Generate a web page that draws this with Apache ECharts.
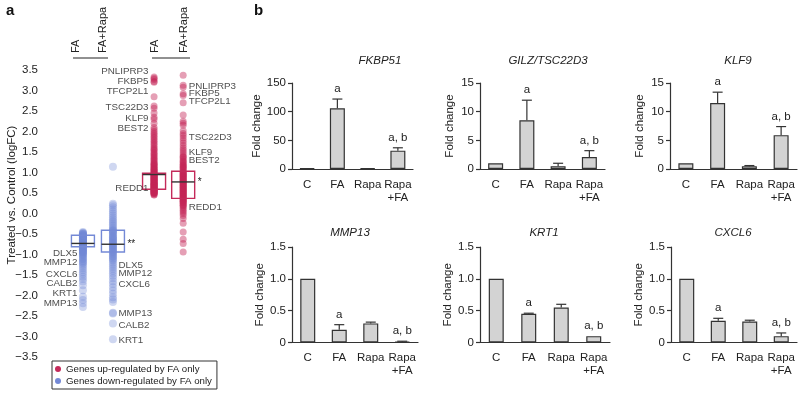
<!DOCTYPE html>
<html>
<head>
<meta charset="utf-8">
<script src="https://cdn.jsdelivr.net/npm/echarts@6/dist/echarts.min.js"></script>
<style>
  html, body { margin: 0; padding: 0; background: #fff; }
  #main { width: 800px; height: 398px; }
</style>
</head>
<body>
<div id="main"></div>
<script>
const FONT = 'Liberation Sans, Arial, Helvetica, sans-serif'

// ---- panel a: logFC per gene, four columns ----
const upName = 'Genes up-regulated by FA only'
const downName = 'Genes down-regulated by FA only'
const colX = [1.23, 2.23, 3.6, 4.57]   // blue FA, blue FA+Rapa, red FA, red FA+Rapa

const blueFA = [-0.45, -0.47, -0.49, -0.51, -0.53, -0.55, -0.57, -0.59, -0.61, -0.63, -0.65, -0.67, -0.69, -0.71, -0.73, -0.75,
  -0.77, -0.79, -0.81, -0.84, -0.87, -0.9, -0.93, -0.96, -0.99, -1.02, -1.05, -1.08, -1.12, -1.16, -1.2, -1.24, -1.28, -1.33,
  -1.38, -1.43, -1.48, -1.54, -1.6, -1.66, -1.75, -1.87, -2.03, -2.11, -2.19, -2.28, -0.48, -0.52, -0.56, -0.6, -0.64, -0.68,
  -0.72, -0.76, -0.8, -0.85, -0.9, -0.95, -1.0, -0.5, -0.54, -0.58, -0.62, -0.66, -0.7, -0.74, -0.78, -0.82, -0.88, -0.94, -1.1, -1.18]
const blueFARapa = [1.14, 0.24, 0.2, 0.15, 0.1, 0.05, 0.0, -0.05, -0.1, -0.14, -0.18, -0.22, -0.26, -0.3, -0.34, -0.38, -0.42,
  -0.46, -0.5, -0.54, -0.58, -0.62, -0.66, -0.7, -0.74, -0.78, -0.82, -0.86, -0.9, -0.94, -0.98, -1.02, -1.06, -1.1, -1.15, -1.2,
  -1.25, -1.3, -1.35, -1.4, -1.46, -1.52, -1.58, -1.65, -1.72, -1.8, -1.88, -1.96, -2.04, -2.1, -2.16, -2.42, -2.44, -2.68, -3.07,
  -0.4, -0.48, -0.56, -0.64, -0.72, -0.8, -0.88, -0.96, -1.04, -1.12, -0.44, -0.6, -0.76, -0.92, -0.68, -0.84]
const redFA = [3.33, 3.3, 3.27, 3.22, 3.2, 2.85, 2.62, 2.57, 2.45, 2.35, 2.3, 2.2, 2.1, 2.05, 2.0, 1.96, 1.92, 1.88, 1.84, 1.8,
  1.76, 1.72, 1.68, 1.64, 1.6, 1.57, 1.54, 1.5, 1.47, 1.44, 1.41, 1.38, 1.35, 1.32, 1.29, 1.26, 1.23, 1.2, 1.18, 1.15, 1.13, 1.1,
  1.08, 1.06, 1.04, 1.02, 1.0, 0.98, 0.96, 0.94, 0.92, 0.9, 0.88, 0.86, 0.84, 0.82, 0.8, 0.78, 0.76, 0.74, 0.72, 0.7, 0.68, 0.66,
  0.64, 0.62, 0.6, 0.58, 0.56, 0.54, 0.52, 0.5, 0.48, 0.46, 0.45, 0.5, 0.53, 0.56, 0.59, 0.62, 0.65, 0.68, 0.71, 0.74, 0.77, 0.8,
  0.83, 0.86, 0.89, 0.92, 0.95, 0.49, 0.51, 0.55, 0.57, 0.6, 0.63, 0.67, 0.7, 0.73, 0.79, 0.85, 0.91, 0.97, 1.03, 1.09, 1.16, 1.22]
const redFARapa = [3.37, 3.13, 3.08, 2.92, 2.88, 2.7, 2.4, 2.25, 2.2, 2.15, 2.02, 1.95, 1.9, 1.84, 1.78, 1.72, 1.66, 1.6, 1.55,
  1.5, 1.45, 1.4, 1.36, 1.32, 1.28, 1.24, 1.2, 1.16, 1.12, 1.08, 1.04, 1.0, 0.97, 0.94, 0.91, 0.88, 0.85, 0.82, 0.79, 0.76, 0.73,
  0.7, 0.67, 0.64, 0.61, 0.58, 0.55, 0.52, 0.49, 0.46, 0.43, 0.4, 0.37, 0.34, 0.31, 0.28, 0.25, 0.22, 0.19, 0.16, 0.12, 0.08,
  0.04, 0.0, -0.05, -0.12, -0.24, -0.45, -0.63, -0.73, -0.94, 0.3, 0.36, 0.42, 0.48, 0.54, 0.6, 0.66, 0.72, 0.78, 0.84, 0.9, 0.96,
  1.02, 1.1, 1.18, 0.33, 0.45, 0.57, 0.69, 0.81, 0.93, 0.2, 0.27, 0.39, 0.51, 0.63, 0.75, 0.87, 0.99, 1.14, 1.26, 1.38]

// box per column: q1, median, q3
const boxQ1 = [-0.81, -0.94, 0.59, 0.37]
const boxMed = [-0.73, -0.75, 0.95, 0.77]
const boxQ3 = [-0.53, -0.41, 0.98, 1.03]
const boxStars = ['', '**', '', '*']
const boxColors = ['#7489d6', '#7489d6', '#c42a5a', '#c42a5a']

// gene labels: name, column, label height, side
const geneNames = ['DLX5', 'MMP12', 'CXCL6', 'CALB2', 'KRT1', 'MMP13',
  'DLX5', 'MMP12', 'CXCL6', 'MMP13', 'CALB2', 'KRT1',
  'PNLIPRP3', 'FKBP5', 'TFCP2L1', 'TSC22D3', 'KLF9', 'BEST2', 'REDD1',
  'PNLIPRP3', 'FKBP5', 'TFCP2L1', 'TSC22D3', 'KLF9', 'BEST2', 'REDD1']
const geneCol = [0, 0, 0, 0, 0, 0, 1, 1, 1, 1, 1, 1, 2, 2, 2, 2, 2, 2, 2, 3, 3, 3, 3, 3, 3, 3]
const geneY = [-0.96, -1.2, -1.48, -1.69, -1.94, -2.18,
  -1.26, -1.46, -1.72, -2.44, -2.73, -3.09,
  3.47, 3.22, 2.99, 2.59, 2.33, 2.09, 0.61,
  3.1, 2.92, 2.73, 1.87, 1.5, 1.3, 0.16]
const geneSide = ['left', 'right', 'left', 'right']

// ---- panel b: qPCR fold change ----
const groups = ['C', 'FA', 'Rapa', 'Rapa\n+FA']
const sigLetters = ['', 'a', '', 'a, b']
const fkbp51 = [1, 106, 1, 32]
const fkbp51Err = [0.3, 16, 0.8, 5]
const gilz = [1.0, 8.5, 0.5, 2.1]
const gilzErr = [0, 3.5, 0.5, 1.1]
const klf9 = [1.0, 11.5, 0.5, 5.9]
const klf9Err = [0, 1.9, 0.1, 1.5]
const mmp13 = [1.0, 0.2, 0.3, 0.01]
const mmp13Err = [0, 0.08, 0.02, 0.01]
const krt1 = [1.0, 0.45, 0.55, 0.1]
const krt1Err = [0, 0.01, 0.05, 0]
const cxcl6 = [1.0, 0.34, 0.33, 0.1]
const cxcl6Err = [0, 0.04, 0.02, 0.05]

const panels = [
  { name: 'FKBP51', vals: fkbp51, errs: fkbp51Err, max: 150, step: 50, grid: { left: 292, top: 83, width: 121, height: 86 }, tx: 375, ty: 50 },
  { name: 'GILZ/TSC22D3', vals: gilz, errs: gilzErr, max: 15, step: 5, grid: { left: 480, top: 83, width: 125, height: 86 }, tx: 543, ty: 50 },
  { name: 'KLF9', vals: klf9, errs: klf9Err, max: 15, step: 5, grid: { left: 670, top: 83, width: 127, height: 86 }, tx: 733, ty: 50 },
  { name: 'MMP13', vals: mmp13, errs: mmp13Err, max: 1.5, step: 0.5, grid: { left: 292, top: 247, width: 126, height: 95.5 }, tx: 345, ty: 222 },
  { name: 'KRT1', vals: krt1, errs: krt1Err, max: 1.5, step: 0.5, grid: { left: 480, top: 247, width: 130, height: 95.5 }, tx: 539, ty: 222 },
  { name: 'CXCL6', vals: cxcl6, errs: cxcl6Err, max: 1.5, step: 0.5, grid: { left: 671, top: 247, width: 126, height: 95.5 }, tx: 728, ty: 222 }
]

const chart = echarts.init(document.getElementById('main'))

const grids = [{ left: 46, top: 70, width: 169, height: 287 }]
const xAxes = [{ type: 'value', gridIndex: 0, min: 0, max: 5.63, show: false }]
const yAxes = [{
  type: 'value', gridIndex: 0, min: -3.5, max: 3.5, interval: 0.5,
  axisLine: { show: false }, axisTick: { show: false }, splitLine: { show: false },
  axisLabel: {
    fontSize: 11.5, color: '#222', fontFamily: FONT, margin: 8,
    formatter: v => (v < 0 ? '\u2212' : '') + Math.abs(v).toFixed(1)
  }
}]
const titles = []

const series = [
  {
    name: upName, type: 'scatter', xAxisIndex: 0, yAxisIndex: 0, silent: true, symbolSize: 7,
    itemStyle: { color: 'rgba(196,36,86,0.55)' },
    data: redFA.map(v => [colX[2], v]).concat(redFARapa.map(v => [colX[3], v]))
  },
  {
    name: downName, type: 'scatter', xAxisIndex: 0, yAxisIndex: 0, silent: true, symbolSize: 8,
    itemStyle: { color: 'rgba(112,136,214,0.42)' },
    data: blueFA.map(v => [colX[0], v]).concat(blueFARapa.map(v => [colX[1], v]))
  },
  {
    type: 'custom', xAxisIndex: 0, yAxisIndex: 0, silent: true, z: 5,
    data: colX.map((x, i) => [x, boxQ1[i], boxMed[i], boxQ3[i]]),
    renderItem: (params, api) => {
      const i = params.dataIndex
      const x = api.value(0)
      const top = api.coord([x, api.value(3)])
      const bot = api.coord([x, api.value(1)])
      const med = api.coord([x, api.value(2)])
      const hw = 11.5
      return {
        type: 'group',
        children: [
          { type: 'rect', shape: { x: top[0] - hw, y: top[1], width: hw * 2, height: bot[1] - top[1] },
            style: { fill: 'none', stroke: boxColors[i], lineWidth: 1.4 } },
          { type: 'line', shape: { x1: med[0] - hw, y1: med[1], x2: med[0] + hw, y2: med[1] },
            style: { stroke: '#333', lineWidth: 1.4 } },
          { type: 'text', x: med[0] + hw + 3, y: med[1],
            style: { text: boxStars[i], fill: '#222', font: '10px ' + FONT, align: 'left', verticalAlign: 'middle' } }
        ]
      }
    }
  }
]

// gene name labels, one series per side
;['left', 'right'].forEach(side => {
  const data = []
  geneNames.forEach((g, i) => {
    if (geneSide[geneCol[i]] === side) data.push({ name: g, value: [colX[geneCol[i]], geneY[i]] })
  })
  series.push({
    type: 'scatter', xAxisIndex: 0, yAxisIndex: 0, silent: true, symbolSize: 1, z: 6,
    itemStyle: { color: 'rgba(0,0,0,0)' },
    label: { show: true, position: side, distance: 5, formatter: '{b}', color: '#222', fontSize: 9.8, fontFamily: FONT },
    data
  })
})

panels.forEach((p, k) => {
  const gi = k + 1
  grids.push(p.grid)
  titles.push({
    text: p.name, left: p.tx, top: p.ty, textAlign: 'center',
    textStyle: { fontSize: 11.5, fontStyle: 'italic', fontWeight: 'normal', color: '#222', fontFamily: FONT }
  })
  xAxes.push({
    type: 'category', gridIndex: gi, data: groups,
    axisLine: { lineStyle: { color: '#333', width: 1.2 } },
    axisTick: { alignWithLabel: true, length: 4, lineStyle: { color: '#333', width: 1.2 } },
    axisLabel: { fontSize: 11.5, color: '#222', fontFamily: FONT, margin: 9, lineHeight: 13, interval: 0 }
  })
  yAxes.push({
    type: 'value', gridIndex: gi, min: 0, max: p.max, interval: p.step,
    axisLine: { show: true, lineStyle: { color: '#333', width: 1.2 } },
    axisTick: { show: true, length: 4, lineStyle: { color: '#333', width: 1.2 } },
    splitLine: { show: false },
    axisLabel: {
      fontSize: 11.5, color: '#222', fontFamily: FONT, margin: 6,
      formatter: v => (p.step < 1 && v !== 0) ? v.toFixed(1) : String(v)
    },
    name: 'Fold change', nameLocation: 'middle', nameGap: 24,
    nameTextStyle: { fontSize: 11.5, color: '#222', fontFamily: FONT }
  })
  series.push({
    type: 'bar', xAxisIndex: gi, yAxisIndex: gi, silent: true, barWidth: 15,
    itemStyle: { color: '#d3d3d3', borderColor: '#333', borderWidth: 1.2 },
    data: p.vals
  })
  series.push({
    type: 'custom', xAxisIndex: gi, yAxisIndex: gi, silent: true, z: 4,
    data: p.vals.map((v, i) => [i, v, v + p.errs[i]]),
    renderItem: (params, api) => {
      const i = params.dataIndex
      const base = api.coord([api.value(0), api.value(1)])
      const top = api.coord([api.value(0), api.value(2)])
      const children = []
      if (top[1] < base[1] - 0.5) {
        children.push({ type: 'line', shape: { x1: top[0], y1: base[1], x2: top[0], y2: top[1] }, style: { stroke: '#333', lineWidth: 1.2 } })
        children.push({ type: 'line', shape: { x1: top[0] - 5, y1: top[1], x2: top[0] + 5, y2: top[1] }, style: { stroke: '#333', lineWidth: 1.2 } })
      }
      children.push({
        type: 'text', x: top[0], y: top[1] - 4,
        style: { text: sigLetters[i], fill: '#222', font: '11.5px ' + FONT, align: 'center', verticalAlign: 'bottom' }
      })
      return { type: 'group', children }
    }
  })
})

chart.setOption({
  animation: false,
  backgroundColor: '#fff',
  textStyle: { fontFamily: FONT },
  title: titles,
  grid: grids,
  xAxis: xAxes,
  yAxis: yAxes,
  legend: {
    data: [
      { name: upName, itemStyle: { color: '#c42a5a', opacity: 1 } },
      { name: downName, itemStyle: { color: '#7489d6', opacity: 1 } }
    ],
    orient: 'vertical', left: 52, top: 361, icon: 'circle', itemWidth: 6, itemHeight: 6, itemGap: 2,
    padding: [3, 5, 3, 3], borderColor: '#333', borderWidth: 1, selectedMode: false,
    textStyle: { fontSize: 9.7, color: '#222', fontFamily: FONT }
  },
  graphic: [
    { type: 'text', left: 6, top: 3, style: { text: 'a', font: 'bold 15px ' + FONT, fill: '#111' } },
    { type: 'text', left: 254, top: 3, style: { text: 'b', font: 'bold 15px ' + FONT, fill: '#111' } },
    { type: 'text', x: 12, y: 195, rotation: Math.PI / 2,
      style: { text: 'Treated vs. Control (logFC)', font: '11.5px ' + FONT, fill: '#222', align: 'center', verticalAlign: 'middle' } },
    { type: 'text', x: 76, y: 53, rotation: Math.PI / 2, style: { text: 'FA', font: '11px ' + FONT, fill: '#222', align: 'left', verticalAlign: 'middle' } },
    { type: 'text', x: 103, y: 53, rotation: Math.PI / 2, style: { text: 'FA+Rapa', font: '11px ' + FONT, fill: '#222', align: 'left', verticalAlign: 'middle' } },
    { type: 'text', x: 155, y: 53, rotation: Math.PI / 2, style: { text: 'FA', font: '11px ' + FONT, fill: '#222', align: 'left', verticalAlign: 'middle' } },
    { type: 'text', x: 184, y: 53, rotation: Math.PI / 2, style: { text: 'FA+Rapa', font: '11px ' + FONT, fill: '#222', align: 'left', verticalAlign: 'middle' } },
    { type: 'line', shape: { x1: 73, y1: 58, x2: 108, y2: 58 }, style: { stroke: '#222', lineWidth: 1 } },
    { type: 'line', shape: { x1: 152, y1: 58, x2: 190, y2: 58 }, style: { stroke: '#222', lineWidth: 1 } }
  ],
  series
})
</script>
</body>
</html>
